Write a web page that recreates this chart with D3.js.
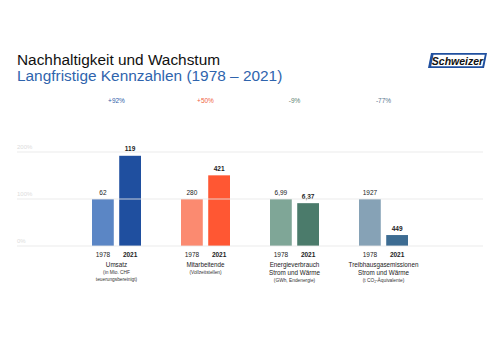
<!DOCTYPE html>
<html>
<head>
<meta charset="utf-8">
<script src="https://cdn.jsdelivr.net/npm/d3@7"></script>
<style>
  body { margin: 0; background: #fff; }
  text { font-family: "Liberation Sans", Arial, sans-serif; }
</style>
</head>
<body>
<script>
// data
var categories = ["Umsatz", "Mitarbeitende", "Energieverbrauch", "Treibhausgasemissionen"];
var years = ["1978", "2021"];
var values1978 = [62, 280, 6.99, 1927];
var values2021 = [119, 421, 6.37, 449];
var labelLines = [
  ["Umsatz"],
  ["Mitarbeitende"],
  ["Energieverbrauch", "Strom und Wärme"],
  ["Treibhausgasemissionen", "Strom und Wärme"]
];
var unitLines = [
  ["(in Mio. CHF", "teuerungsbereinigt)"],
  ["(Vollzeitstellen)"],
  ["(GWh, Endenergie)"],
  ["(t CO₂-Äquivalente)"]
];
var gridTicks = [0, 100, 200];
var colors1978 = ["#5b86c5", "#fb8a70", "#7fa697", "#86a2b6"];
var colors2021 = ["#1f4f9f", "#ff5733", "#4b7b6b", "#3d6c92"];
var pctColors = ["#2d5da8", "#f0633f", "#5d7f73", "#5a7690"];

var w = 500, h = 352;
var svg = d3.select("body").append("svg").attr("width", w).attr("height", h);

var fmt = function(v) { return String(v).replace(".", ","); };

// title
svg.append("text").attr("x", 17).attr("y", 65)
  .attr("font-size", 15.4).attr("fill", "#111")
  .text("Nachhaltigkeit und Wachstum");
svg.append("text").attr("x", 17).attr("y", 81)
  .attr("font-size", 15.4).attr("fill", "#2f64ad")
  .text("Langfristige Kennzahlen (1978 – 2021)");

// logo
var logo = svg.append("g").attr("transform", "translate(428,53)");
logo.append("polygon").attr("points", "3,0 59,0 56,15 0,15").attr("fill", "#1f4f9f");
logo.append("polygon").attr("points", "5.5,1.8 56.8,1.8 54.3,13.2 3.2,13.2").attr("fill", "#fff");
logo.append("text").attr("x", 29.5).attr("y", 11.6).attr("text-anchor", "middle")
  .attr("font-size", 10.5).attr("font-weight", "bold").attr("font-style", "italic")
  .attr("fill", "#111").text("Schweizer");

// scales
var x = d3.scaleBand().domain(categories).range([72, 428]);
var xi = d3.scaleBand().domain(years).range([-24.5, 24.5]).paddingInner(0.2);
var y = d3.scaleLinear().domain([0, 200]).range([246, 152]);

var data = categories.map(function(c, i) {
  return {
    cat: c, i: i,
    bars: [
      { year: "1978", value: values1978[i], pct: 100, color: colors1978[i], bold: false },
      { year: "2021", value: values2021[i], pct: values2021[i] / values1978[i] * 100, color: colors2021[i], bold: true }
    ]
  };
});

var groups = svg.selectAll("g.grp").data(data).enter().append("g")
  .attr("class", "grp")
  .attr("transform", function(d) { return "translate(" + (x(d.cat) + x.bandwidth() / 2) + ",0)"; });

groups.selectAll("rect").data(function(d) { return d.bars; }).enter().append("rect")
  .attr("x", function(d) { return xi(d.year); })
  .attr("width", xi.bandwidth())
  .attr("y", function(d) { return y(d.pct); })
  .attr("height", function(d) { return y(0) - y(d.pct); })
  .attr("fill", function(d) { return d.color; });

// gridlines over bars
var grid = svg.append("g");
grid.selectAll("line").data(gridTicks).enter().append("line")
  .attr("x1", 17).attr("x2", 483)
  .attr("y1", function(d) { return y(d); }).attr("y2", function(d) { return y(d); })
  .attr("stroke", "#e8e8e8").attr("stroke-opacity", 0.85).attr("stroke-width", 1);
grid.selectAll("text").data(gridTicks).enter().append("text")
  .attr("x", 17).attr("y", function(d) { return y(d) - 3; })
  .attr("font-size", 6).attr("fill", "#dcdcdc")
  .text(function(d) { return d + "%"; });

// value labels
groups.selectAll("text.val").data(function(d) { return d.bars; }).enter().append("text")
  .attr("class", "val")
  .attr("x", function(d) { return xi(d.year) + xi.bandwidth() / 2; })
  .attr("y", function(d) { return y(d.pct) - 4.5; })
  .attr("text-anchor", "middle").attr("font-size", 6.5)
  .attr("font-weight", function(d) { return d.bold ? "bold" : "normal"; })
  .attr("fill", "#222")
  .text(function(d) { return fmt(d.value); });

// year labels
groups.selectAll("text.yr").data(function(d) { return d.bars; }).enter().append("text")
  .attr("class", "yr")
  .attr("x", function(d) { return xi(d.year) + xi.bandwidth() / 2; })
  .attr("y", 256.5)
  .attr("text-anchor", "middle").attr("font-size", 6.5)
  .attr("font-weight", function(d) { return d.bold ? "bold" : "normal"; })
  .attr("fill", "#222")
  .text(function(d) { return d.year; });

// change labels
groups.append("text")
  .attr("y", 103).attr("text-anchor", "middle").attr("font-size", 6.5)
  .attr("fill", function(d) { return pctColors[d.i]; })
  .text(function(d) {
    var c = Math.round((values2021[d.i] / values1978[d.i] - 1) * 100);
    return (c > 0 ? "+" : "") + c + "%";
  });

// category labels
groups.each(function(d) {
  var g = d3.select(this);
  var yy = 267;
  labelLines[d.i].forEach(function(t) {
    g.append("text").attr("y", yy).attr("text-anchor", "middle")
      .attr("font-size", 6.3).attr("fill", "#222").text(t);
    yy += 7.5;
  });
  unitLines[d.i].forEach(function(t) {
    g.append("text").attr("y", yy - 0.5).attr("text-anchor", "middle")
      .attr("font-size", 4.8).attr("fill", "#333").text(t);
    yy += 6.5;
  });
});
</script>
</body>
</html>
